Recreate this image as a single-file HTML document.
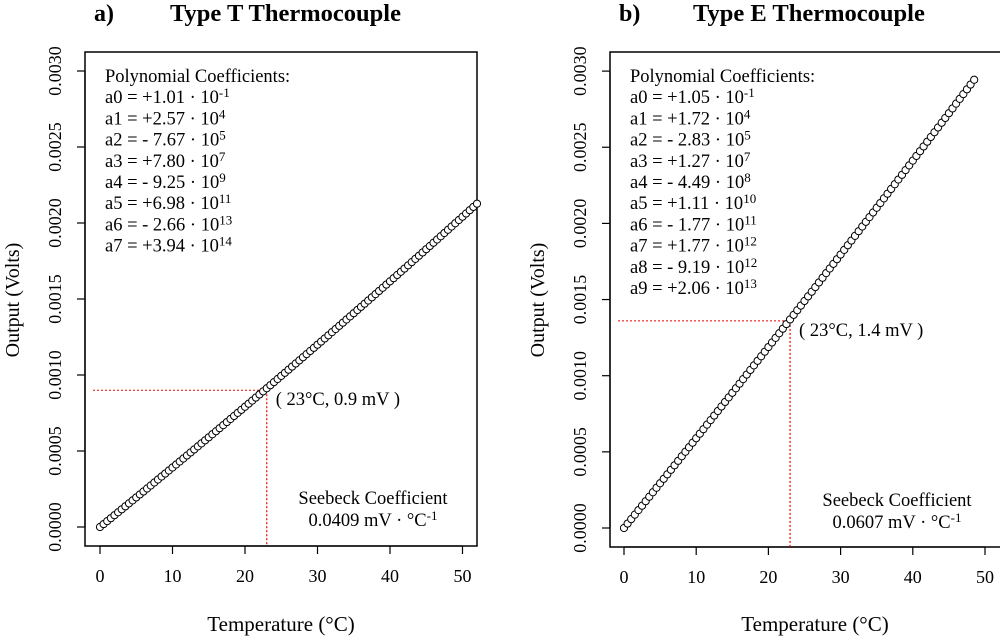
<!DOCTYPE html>
<html><head><meta charset="utf-8"><style>
body{margin:0;background:#fff}
svg{display:block;font-family:"Liberation Serif",serif}
</style></head><body>
<svg id="c" width="1000" height="641" viewBox="0 0 1000 641"></svg>
<script>
const temps = [0,0.5,1,1.5,2,2.5,3,3.5,4,4.5,5,5.5,6,6.5,7,7.5,8,8.5,9,9.5,10,10.5,11,11.5,12,12.5,13,13.5,14,14.5,15,15.5,16,16.5,17,17.5,18,18.5,19,19.5,20,20.5,21,21.5,22,22.5,23,23.5,24,24.5,25,25.5,26,26.5,27,27.5,28,28.5,29,29.5,30,30.5,31,31.5,32,32.5,33,33.5,34,34.5,35,35.5,36,36.5,37,37.5,38,38.5,39,39.5,40,40.5,41,41.5,42,42.5,43,43.5,44,44.5,45,45.5,46,46.5,47,47.5,48,48.5,49,49.5,50,50.5,51,51.5,52];
const voltsT = [0,.0193,.0387,.0581,.0776,.0970,.1165,.1360,.1555,.1750,.1946,.2141,.2337,.2533,.2730,.2926,.3123,.3320,.3517,.3715,.3913,.4110,.4308,.4506,.4705,.4904,.5103,.5302,.5501,.5701,.5901,.6101,.6301,.6501,.6702,.6903,.7104,.7305,.7506,.7708,.7910,.8112,.8314,.8517,.8720,.8923,.9126,.9329,.9533,.9737,.9941,1.0145,1.0349,1.0554,1.0759,1.0964,1.1169,1.1374,1.1580,1.1786,1.1993,1.2199,1.2405,1.2612,1.2819,1.3026,1.3234,1.3441,1.3649,1.3857,1.4066,1.4274,1.4483,1.4692,1.4901,1.5110,1.5320,1.5530,1.5740,1.5950,1.6160,1.6370,1.6581,1.6792,1.7004,1.7215,1.7427,1.7639,1.7851,1.8063,1.8276,1.8488,1.8701,1.8914,1.9128,1.9341,1.9555,1.9769,1.9983,2.0197,2.0412,2.0627,2.0842,2.1057,2.1272];
const voltsE = [0,.0292,.0585,.0878,.1172,.1465,.1759,.2053,.2347,.2641,.2936,.3231,.3526,.3821,.4117,.4413,.4709,.5005,.5301,.5598,.5895,.6192,.6489,.6787,.7085,.7383,.7681,.7979,.8278,.8577,.8876,.9175,.9475,.9775,1.0075,1.0375,1.0676,1.0976,1.1277,1.1578,1.1880,1.2181,1.2483,1.2785,1.3088,1.3390,1.3693,1.3996,1.4299,1.4602,1.4906,1.5210,1.5514,1.5818,1.6123,1.6428,1.6733,1.7038,1.7343,1.7649,1.7955,1.8261,1.8567,1.8874,1.9181,1.9488,1.9795,2.0102,2.0410,2.0718,2.1026,2.1334,2.1643,2.1952,2.2261,2.2570,2.2880,2.3189,2.3499,2.3809,2.4120,2.4430,2.4741,2.5052,2.5364,2.5675,2.5987,2.6299,2.6611,2.6923,2.7236,2.7549,2.7862,2.8175,2.8489,2.8803,2.9117,2.9430];
const xTicks = [0,10,20,30,40,50];
const yTicks = [0,0.0005,0.0010,0.0015,0.0020,0.0025,0.0030];
const yTickLabels = ["0.0000","0.0005","0.0010","0.0015","0.0020","0.0025","0.0030"];
const coefT = [["a0 = +1.01 · 10","-1"],["a1 = +2.57 · 10","4"],["a2 = - 7.67 · 10","5"],["a3 = +7.80 · 10","7"],["a4 = - 9.25 · 10","9"],["a5 = +6.98 · 10","11"],["a6 = - 2.66 · 10","13"],["a7 = +3.94 · 10","14"]];
const coefE = [["a0 = +1.05 · 10","-1"],["a1 = +1.72 · 10","4"],["a2 = - 2.83 · 10","5"],["a3 = +1.27 · 10","7"],["a4 = - 4.49 · 10","8"],["a5 = +1.11 · 10","10"],["a6 = - 1.77 · 10","11"],["a7 = +1.77 · 10","12"],["a8 = - 9.19 · 10","12"],["a9 = +2.06 · 10","13"]];
const markT = [23, 0.9];
const markE = [23, 1.36];

const NS="http://www.w3.org/2000/svg";
const svg=document.getElementById('c');
function el(tag,attrs,parent,text){const e=document.createElementNS(NS,tag);for(const k in attrs)e.setAttribute(k,attrs[k]);if(text!==undefined)e.textContent=text;(parent||svg).appendChild(e);return e;}

function panel(cfg){
  const g=el('g',{});
  
  
  const X=t=>cfg.x0+t*cfg.xs;
  const Y=v=>cfg.y0-v*cfg.ys;
  const b=el('rect',{x:cfg.bl,y:52,width:cfg.br-cfg.bl,height:cfg.bb-52,fill:'none',stroke:'#000','stroke-width':1.5},g);
  
  
  el('line',{x1:X(0),x2:X(50),y1:cfg.bb,y2:cfg.bb,stroke:'#000','stroke-width':1.2},g);
  xTicks.forEach(t=>{
    el('line',{x1:X(t),x2:X(t),y1:cfg.bb,y2:cfg.bb+8,stroke:'#000','stroke-width':1.2},g);
    const l=el('text',{x:X(t),y:cfg.bb+36,'text-anchor':'middle','font-size':18},g,String(t));
    
    
  });
  el('line',{x1:cfg.bl,x2:cfg.bl,y1:Y(0),y2:Y(0.003),stroke:'#000','stroke-width':1.2},g);
  yTicks.forEach((v,i)=>{
    el('line',{x1:cfg.bl-8,x2:cfg.bl,y1:Y(v),y2:Y(v),stroke:'#000','stroke-width':1.2},g);
    const l=el('text',{x:0,y:0,'text-anchor':'middle','font-size':18,transform:`translate(${cfg.bl-24},${Y(v)}) rotate(-90)`},g,yTickLabels[i]);
    
    
  });
  const yt=el('text',{x:0,y:0,'text-anchor':'middle','font-size':20,transform:`translate(${cfg.bl-66},300) rotate(-90)`},g,'Output (Volts)');
  
  
  const xt=el('text',{x:cfg.xt,y:631,'text-anchor':'middle','font-size':21},g,'Temperature (°C)');
  
  
  const tl=el('text',{x:cfg.bl+9,y:21,'font-size':24,'font-weight':'bold'},g,cfg.letter);
  
  
  const tt=el('text',{x:cfg.tx,y:21,'font-size':24.5,'font-weight':'bold'},g,cfg.title);
  
  
  const h=el('line',{x1:cfg.bl+8,x2:X(cfg.mark[0]),y1:Y(cfg.mark[1]/1000),y2:Y(cfg.mark[1]/1000),stroke:'#e00','stroke-width':1,'stroke-dasharray':'2,2'},g);
  
  
  const v=el('line',{x1:X(cfg.mark[0]),x2:X(cfg.mark[0]),y1:Y(cfg.mark[1]/1000),y2:cfg.bb,stroke:'#e00','stroke-width':1.2,'stroke-dasharray':'2,2'},g);
  
  
  cfg.volts.forEach((mv,i)=>{
    const c=el('circle',{cx:X(temps[i]),cy:Y(mv/1000),r:3.6,fill:'#fff',stroke:'#000','stroke-width':1},g);
    
    
  });
  const an=el('text',{x:X(cfg.mark[0])+9,y:Y(cfg.mark[1]/1000)+15,'font-size':18.5},g,cfg.ann);
  
  
  const cg=el('g',{'font-size':18.5},g);
  
  
  el('text',{x:cfg.bl+20,y:82},cg,'Polynomial Coefficients:');
  cfg.coef.forEach((c,i)=>{
    const t=el('text',{x:cfg.bl+20,y:82+21.2*(i+1)},cg,c[0]);
    el('tspan',{'font-size':13,dy:-6},t,c[1]);
  });
  const sg=el('g',{'font-size':18.5,'text-anchor':'middle'},g);
  
  
  el('text',{x:cfg.sx,y:cfg.sy},sg,'Seebeck Coefficient');
  const s2=el('text',{x:cfg.sx,y:cfg.sy+22},sg,cfg.seeb+' mV · °C');
  el('tspan',{'font-size':13,dy:-6},s2,'-1');
}
panel({name:'panel-type-t',x0:100,xs:7.25,y0:527,ys:152000,bl:85,br:477,bb:546,xt:281,letter:'a)',tx:170,title:'Type T Thermocouple',mark:markT,volts:voltsT,ann:'( 23°C, 0.9 mV )',coef:coefT,sx:373,sy:504,seeb:'0.0409'});
panel({name:'panel-type-e',x0:624,xs:7.22,y0:528,ys:152300,bl:610,br:1005,bb:547,xt:815,letter:'b)',tx:693,title:'Type E Thermocouple',mark:markE,volts:voltsE,ann:'( 23°C, 1.4 mV )',coef:coefE,sx:897,sy:506,seeb:'0.0607'});
</script>
</body></html>
